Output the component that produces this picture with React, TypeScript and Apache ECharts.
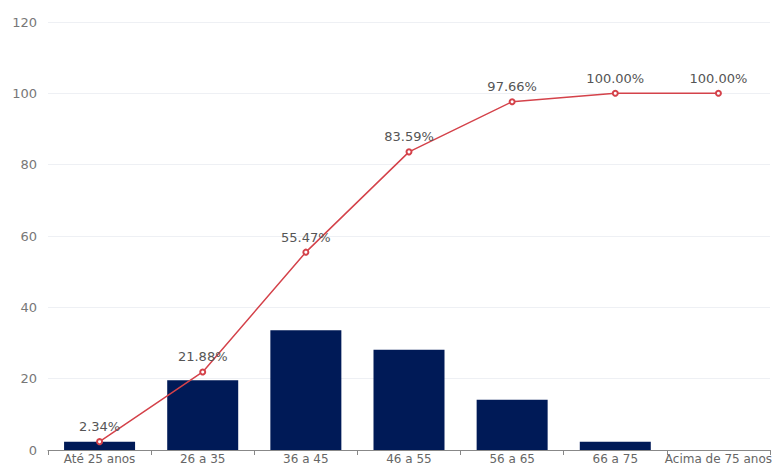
import React, { useEffect, useRef } from "react";
import * as echarts from "echarts";

const categories = ["Até 25 anos", "26 a 35", "36 a 45", "46 a 55", "56 a 65", "66 a 75", "Acima de 75 anos"];
const barValues = [2.34, 19.53, 33.59, 28.13, 14.06, 2.34, 0];
const cumulativeValues = [2.34, 21.88, 55.47, 83.59, 97.66, 100.0, 100.0];
const yTicks = { min: 0, max: 120, interval: 20 };

export default function App() {
  const ref = useRef<HTMLDivElement>(null);
  useEffect(() => {
    if (!ref.current) return;
    const chart = echarts.init(ref.current, null, { renderer: "svg" });
    chart.setOption({
      animation: false,
      textStyle: { fontFamily: "DejaVu Sans" },
      grid: { left: 48, right: 14, top: 22, bottom: 16, containLabel: false, outerBoundsMode: "none" },
      xAxis: {
        type: "category",
        data: categories,
        axisLine: { lineStyle: { color: "#888" } },
        axisTick: { show: true, lineStyle: { color: "#888" } },
        axisLabel: { color: "#666", fontSize: 12, interval: 0, margin: 2, lineHeight: 13 },
      },
      yAxis: {
        type: "value",
        min: yTicks.min,
        max: yTicks.max,
        interval: yTicks.interval,
        axisLine: { show: false },
        axisTick: { show: false },
        axisLabel: { color: "#777", fontSize: 13, margin: 11 },
        splitLine: { lineStyle: { color: "#eef0f4" } },
      },
      series: [
        {
          type: "bar",
          data: barValues,
          barWidth: 71,
          itemStyle: { color: "#001a57" },
        },
        {
          type: "line",
          data: cumulativeValues,
          symbol: "emptyCircle",
          symbolSize: 5,
          lineStyle: { color: "#d4424a", width: 1.5 },
          itemStyle: { color: "#d4424a", borderWidth: 1.5 },
          label: {
            show: true,
            position: "top",
            distance: 5,
            color: "#555",
            fontSize: 13,
            formatter: (p: any) => Number(p.value).toFixed(2) + "%",
          },
        },
      ],
    });
    return () => chart.dispose();
  }, []);
  return (
    <div
      ref={ref}
      style={{ position: "fixed", left: 0, top: 0, width: 784, height: 466, background: "#fff" }}
    />
  );
}
